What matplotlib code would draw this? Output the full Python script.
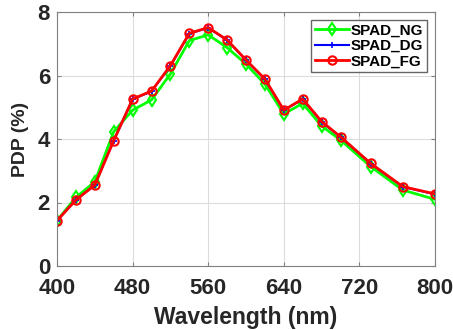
import matplotlib.pyplot as plt

# wavelength (nm) and PDP (%)
wavelength = [400, 420, 440, 460, 480, 500, 520, 540, 560, 580, 600,
              620, 640, 660, 680, 700, 732, 766, 800]
pdp_ng = [1.43, 2.16, 2.65, 4.23, 4.91, 5.23, 6.05, 7.10, 7.28, 6.88, 6.36,
          5.73, 4.79, 5.12, 4.41, 3.97, 3.13, 2.39, 2.10]
pdp_dg = [1.43, 2.08, 2.55, 3.95, 5.25, 5.50, 6.30, 7.32, 7.50, 7.11, 6.48,
          5.88, 4.91, 5.25, 4.54, 4.06, 3.22, 2.49, 2.26]
pdp_fg = [1.43, 2.08, 2.55, 3.95, 5.26, 5.51, 6.31, 7.33, 7.51, 7.12, 6.49,
          5.89, 4.91, 5.26, 4.55, 4.07, 3.23, 2.50, 2.27]

plt.rcParams['font.family'] = ['Liberation Sans', 'DejaVu Sans']
plt.rcParams['font.weight'] = 'bold'

fig = plt.figure(figsize=(4.53, 3.30), dpi=100)
ax = fig.add_axes([57/453, 64/330, 378/453, 254/330])

ax.plot(wavelength, pdp_ng, color='#00ff00', lw=2, marker='d', ms=6,
        mfc='none', mew=1.5, label='SPAD_NG')
ax.plot(wavelength, pdp_dg, color='#0000ff', lw=1.5, marker='+', ms=5,
        mew=1.2, label='SPAD_DG')
ax.plot(wavelength, pdp_fg, color='#ff0000', lw=2, marker='o', ms=6,
        mfc='none', mew=1.5, label='SPAD_FG')

ax.set_xlim(400, 800)
ax.set_ylim(0, 8)
ax.set_xticks([400, 480, 560, 640, 720, 800])
ax.set_yticks([0, 2, 4, 6, 8])
ax.grid(True, color='#dcdcdc', lw=0.8)
ax.set_axisbelow(True)
ax.tick_params(direction='in', top=True, right=True, labelsize=16,
               color='#808080', length=3)
ax.tick_params(axis='x', pad=9)
ax.tick_params(axis='y', pad=5)
for s in ax.spines.values():
    s.set_color('#808080')
for lbl in ax.get_xticklabels() + ax.get_yticklabels():
    lbl.set_fontweight('bold')
    lbl.set_color('#262626')

ax.set_xlabel('Wavelength (nm)', fontsize=16.5, fontweight='bold', color='#262626', labelpad=5)
ax.set_ylabel('PDP (%)', fontsize=14, fontweight='bold', color='#262626', labelpad=6)

leg = ax.legend(loc='upper right', fontsize=11, frameon=True, fancybox=False,
                edgecolor='#404040', handlelength=2.2, borderpad=0.25,
                labelspacing=0.1, handletextpad=0.15, borderaxespad=0.5)
leg.get_frame().set_linewidth(1)
for t in leg.get_texts():
    t.set_fontweight('bold')

fig.savefig('out.png', dpi=100)
